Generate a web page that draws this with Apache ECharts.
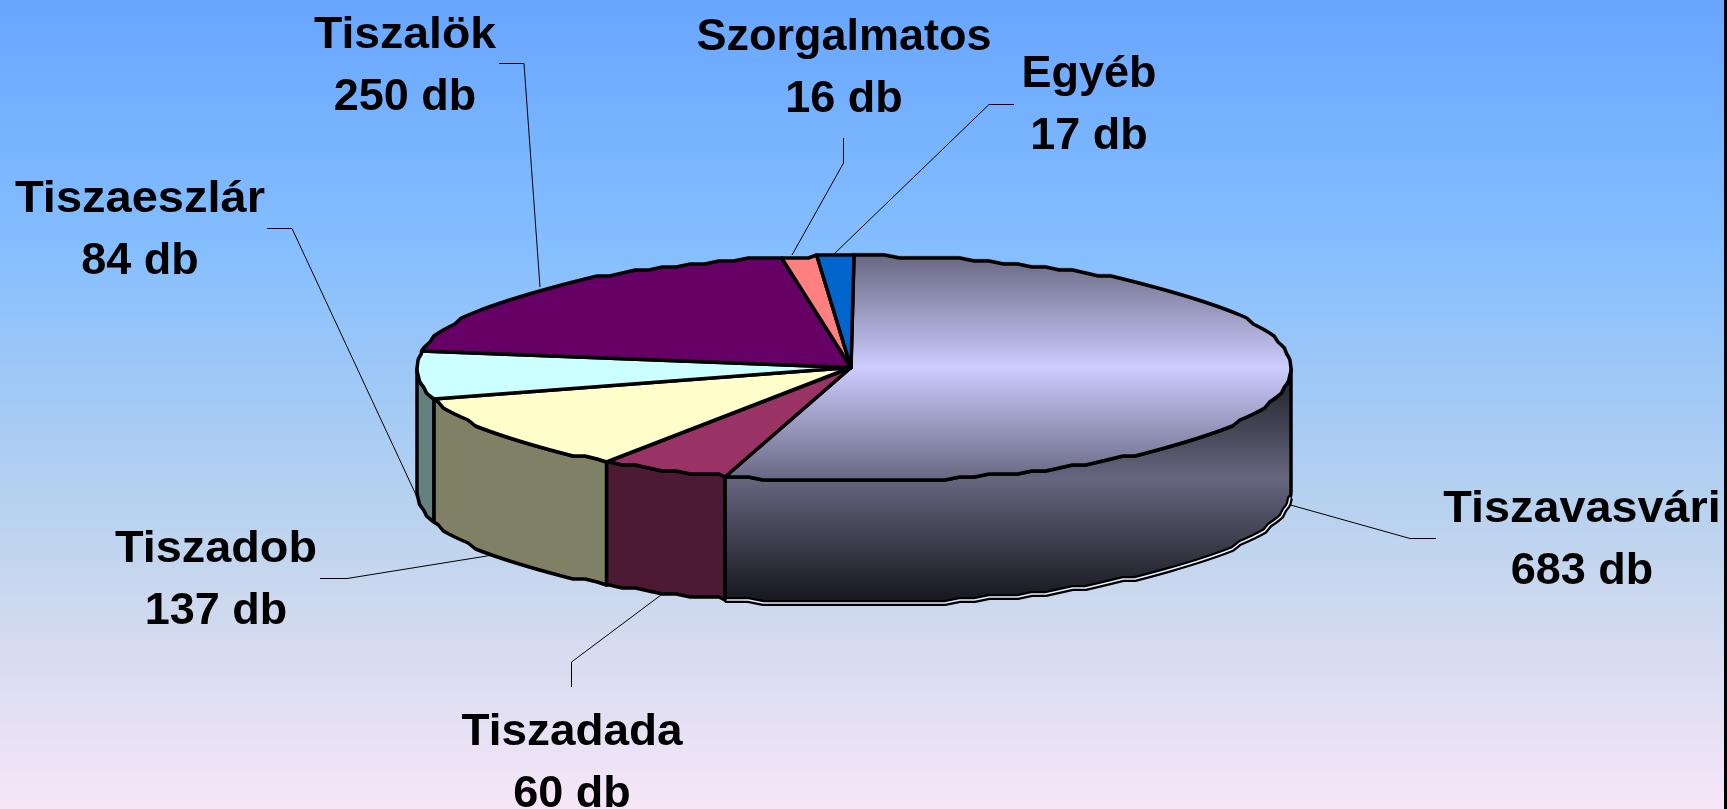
<!DOCTYPE html>
<html>
<head>
<meta charset="utf-8">
<title>Tisza</title>
<style>
    html, body { margin: 0; padding: 0; background: #000; }
    #chart { width: 1724px; height: 809px; }
</style>
<script src="https://cdn.jsdelivr.net/npm/echarts@6/dist/echarts.min.js"></script>
</head>
<body>
<div id="chart"></div>
<script>
// data, clockwise from 12 o'clock
let categories = ['Tiszavasvári', 'Tiszadada', 'Tiszadob', 'Tiszaeszlár', 'Tiszalök', 'Szorgalmatos', 'Egyéb'];
let values = [683, 60, 137, 84, 250, 16, 17];

// styles
let topColors = ['', '#993366', '#ffffcc', '#ccffff', '#660066', '#ff8080', '#0066cc'];
let sideColors = ['', '#4d1a33', '#808066', '#668080', '#330033', '#804040', '#003366'];

// label layout: centre x, first baseline y
let labelSpots = [[1582, 525], [572, 748], [216, 565], [140, 215], [405, 51], [844, 53], [1089, 90]];
// the names are set a little wider than the font's default spacing
let nameStretch = [1.04, 1.02, 1.04, 1.045, 1.03, 1, 1];
// leader lines: text end, elbow, pie end
let leaderLines = [
    [[1436, 538.5], [1410, 538.5], [1287, 504]],
    [[571.5, 687], [571.5, 662], [665, 592]],
    [[320, 578.5], [347, 578.5], [493, 555]],
    [[267, 228.5], [292, 228.5], [417, 497]],
    [[499, 63.5], [524, 63.5], [540, 287]],
    [[843.5, 138], [843.5, 163], [792, 255]],
    [[1014, 104.5], [989, 104.5], [833, 255]]
];

let cx = 854, cy = 368.5, rx = 437, ry = 112.5, depth = 123;
let stepDeg = 2, gridY = 3;
let total = values.reduce((a, b) => a + b, 0);

function angleAt(index) {
    let sum = 0;
    for (let i = 0; i < index; i++) {
        sum += values[i];
    }
    return sum / total * 360;
}

function rimPoint(deg, drop) {
    let r = deg * Math.PI / 180;
    // the source image has a stepped outline
    let y = Math.round((cy - ry * Math.cos(r)) / gridY) * gridY;
    return [cx + rx * Math.sin(r), y + drop];
}

function arc(from, to, drop) {
    let pts = [rimPoint(from, drop)];
    let d = (Math.floor(from / stepDeg) + 1) * stepDeg;
    for (; d < to; d += stepDeg) {
        pts.push(rimPoint(d, drop));
    }
    pts.push(rimPoint(to, drop));
    return pts;
}

let topGradient = new echarts.graphic.LinearGradient(0, 0, 0, 1, [
    { offset: 0, color: '#666680' },
    { offset: 0.5, color: '#ccccff' },
    { offset: 1, color: '#666680' }
]);
let sideGradient = new echarts.graphic.LinearGradient(0, 0, 0, 1, [
    { offset: 0, color: '#1c1c24' },
    { offset: 0.47, color: '#666680' },
    { offset: 1, color: '#14141a' }
]);

function renderSide(params) {
    let i = params.dataIndex;
    let from = Math.max(angleAt(i), 90);
    let to = Math.min(angleAt(i + 1), 270);
    if (to <= from) {
        return { type: 'group', children: [] };
    }
    let upper = arc(from, to, 0);
    let lower = arc(from, to, depth);
    let children = [{
        type: 'polygon',
        shape: { points: upper.concat(lower.slice().reverse()) },
        style: { fill: i === 0 ? sideGradient : sideColors[i], stroke: '#000', lineWidth: 3.5, lineJoin: 'round' }
    }];
    if (i === 0) {
        // double line along the bottom of the big slice
        let edge = arc(from + 3, to, depth);
        children.push({
            type: 'polyline',
            shape: { points: edge },
            style: { fill: null, stroke: '#000', lineWidth: 6, lineJoin: 'round' }
        }, {
            type: 'polyline',
            shape: { points: edge },
            style: { fill: null, stroke: '#e8eeff', lineWidth: 1.5, lineJoin: 'round' }
        });
    }
    return { type: 'group', children: children };
}

function renderTop(params) {
    let i = params.dataIndex;
    let points = [[cx - 3, cy - 1]].concat(arc(angleAt(i), angleAt(i + 1), 0));
    let children = [];
    if (i === 0) {
        children.push({
            type: 'polygon',
            x: -2,
            y: -1,
            shape: { points: points },
            style: { fill: null, stroke: '#8f8fb4', lineWidth: 3, lineJoin: 'round' }
        });
    }
    children.push({
        type: 'polygon',
        shape: { points: points },
        style: { fill: i === 0 ? topGradient : topColors[i], stroke: '#000', lineWidth: 3.5, lineJoin: 'round' }
    });
    return { type: 'group', children: children };
}

function renderLabel(params) {
    let i = params.dataIndex;
    let spot = labelSpots[i];
    let font = 'bold 45px "Liberation Sans", Arial, sans-serif';
    let line = (text, y, stretch) => ({
        type: 'text',
        x: spot[0],
        y: y,
        scaleX: stretch,
        style: { text: text, font: font, fill: '#000', align: 'center', verticalAlign: 'middle' }
    });
    return {
        type: 'group',
        children: [
            { type: 'polyline', shape: { points: leaderLines[i] }, style: { fill: null, stroke: '#000', lineWidth: 1 } },
            line(categories[i], spot[1] - 15.6, nameStretch[i]),
            line(values[i] + ' db', spot[1] + 62 - 15.6, 1)
        ]
    };
}

let seriesData = categories.map((name, i) => ({ name: name, value: values[i] }));

let option = {
    animation: false,
    backgroundColor: new echarts.graphic.LinearGradient(0, 0, 0, 1, [
        { offset: 0, color: '#68a6ff' },
        { offset: 0.3, color: '#84beff' },
        { offset: 0.6, color: '#b3d0f0' },
        { offset: 0.75, color: '#cdd9ee' },
        { offset: 1, color: '#f7e6f8' }
    ]),
    series: [
        { type: 'custom', coordinateSystem: 'none', silent: true, z: 1, data: seriesData, renderItem: renderLabel },
        { type: 'custom', coordinateSystem: 'none', silent: true, z: 2, data: seriesData, renderItem: renderSide },
        { type: 'custom', coordinateSystem: 'none', silent: true, z: 3, data: seriesData, renderItem: renderTop }
    ]
};
echarts.init(document.getElementById('chart')).setOption(option);
</script>
</body>
</html>
